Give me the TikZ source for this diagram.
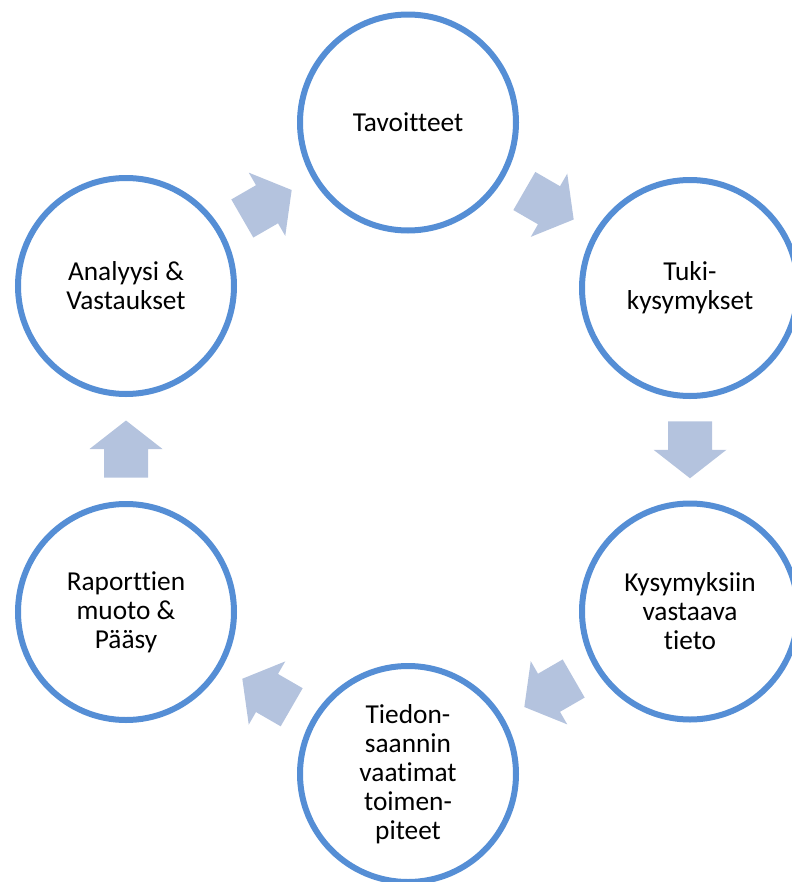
\documentclass[tikz,border=0pt]{standalone}
\usepackage{fontspec}
\setmainfont{Carlito}[Ligatures=NoCommon]
\usetikzlibrary{calc}
\definecolor{ringblue}{RGB}{85,142,213}
\definecolor{arrowfill}{RGB}{180,195,222}
\tikzset{
  stage/.style={circle, draw=ringblue, line width=4.5pt, fill=white,
    minimum size=162pt, inner sep=0pt, outer sep=0pt, align=center,
    font=\fontsize{20.5}{21.75}\selectfont},
  flowarrow/.style={fill=arrowfill, draw=none}
}
\newcommand\cyclearrow[3]{%
  \fill[flowarrow, shift={($(#1)!0.5!(#2)$)}, rotate=#3]
    (-28.5,-22) -- (0,-22) -- (0,-36.5) -- (28.5,0) -- (0,36.5) -- (0,22) -- (-28.5,22) -- cycle;}
\begin{document}
\begin{tikzpicture}[x=0.75pt, y=-0.75pt]
  \useasboundingbox (0,0) rectangle (792,882);
  \node[stage] (goals)      at (408,122.5) {Tavoitteet};
  \node[stage] (support)    at (690,288)   {Tuki-\\kysymykset};
  \node[stage] (answerinfo) at (690,611.5) {Kysymyksiin\\vastaava\\tieto};
  \node[stage] (actions)    at (408,774)   {Tiedon-\\saannin\\vaatimat\\toimen-\\piteet};
  \node[stage] (reports)    at (126,612)   {Raporttien\\muoto \&\\Pääsy};
  \node[stage] (analysis)   at (126,286)   {Analyysi \&\\Vastaukset};
  \cyclearrow{goals}{support}{-30}
  \cyclearrow{support}{answerinfo}{-90}
  \cyclearrow{answerinfo}{actions}{210}
  \cyclearrow{actions}{reports}{150}
  \cyclearrow{reports}{analysis}{90}
  \cyclearrow{analysis}{goals}{30}
\end{tikzpicture}
\end{document}
